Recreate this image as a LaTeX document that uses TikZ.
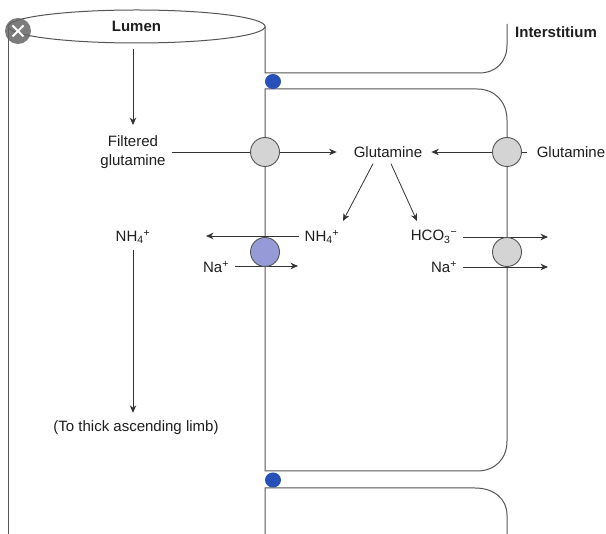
\documentclass[tikz,border=0pt]{standalone}
\usepackage{fontspec}
\setmainfont{Liberation Sans}
\usetikzlibrary{arrows.meta,shapes.geometric,backgrounds}
\definecolor{jblue}{RGB}{40,80,185}
\definecolor{cpurple}{RGB}{150,155,215}
\definecolor{cgray}{RGB}{212,212,212}
\definecolor{memc}{RGB}{85,85,85}
\definecolor{txt}{RGB}{30,30,30}
\begin{document}
\begin{tikzpicture}[x=1pt,y=-1pt,
  mem/.style={draw=memc,line width=1pt},
  link/.style={draw=black!80,line width=0.8pt},
  arr/.style={link,-{Stealth[length=7.5pt,width=6.5pt]}},
  lbl/.style={text=txt,font=\fontsize{15}{18.5}\selectfont,inner sep=2pt},
  head/.style={text=txt,font=\fontsize{15}{18.5}\selectfont\bfseries,inner sep=2pt},
  carrier/.style={circle,draw=memc,line width=0.9pt,fill=cgray,minimum size=29pt,inner sep=0pt},
  junction/.style={ellipse,fill=jblue,minimum width=16pt,minimum height=15pt,inner sep=0pt}]

\useasboundingbox (0,0) rectangle (606,534);

% labels
\node[head,ellipse,draw=memc,line width=1pt,fill=white,minimum width=257pt,minimum height=33pt,inner sep=0pt] (lumen) at (136.5,26.5) {Lumen};
\node[head] (inter) at (556,32) {Interstitium};
\node[lbl,align=center] (filt) at (133,152) {Filtered\\glutamine};
\node[lbl] (glu) at (388,152) {Glutamine};
\node[lbl] (glu2) at (571,152) {Glutamine};
\node[lbl] (nh4m) at (322,237) {NH\textsubscript{4}\textsuperscript{+}};
\node[lbl] (nh4l) at (133,237) {NH\textsubscript{4}\textsuperscript{+}};
\node[lbl] (hco) at (434,237) {HCO\textsubscript{3}\textsuperscript{−}};
\node[lbl] (nal) at (216,267) {Na\textsuperscript{+}};
\node[lbl] (nar) at (444,267) {Na\textsuperscript{+}};
\node[lbl] (limb) at (136,428) {(To thick ascending limb)};

% carriers and junctions
\node[carrier] (c1) at (265,152) {};
\node[carrier,fill=cpurple] (c2) at (265,252) {};
\node[carrier] (c3) at (507,152) {};
\node[carrier] (c4) at (507,252) {};
\node[junction] (j1) at (273,81.5) {};
\node[junction] (j2) at (273,480) {};

% free arrow ends
\coordinate (tNH) at (343,221);
\coordinate (tHC) at (417,221);
\coordinate (tNHl) at (206,236);
\coordinate (tNaL) at (298,266);
\coordinate (tHCr) at (548,237);
\coordinate (tNaR) at (548,267);

\begin{scope}[on background layer]
  \fill[white] (0,0) rectangle (606,534);
  % membranes
  \draw[mem] (8.5,27) -- (8.5,534);
  \draw[mem] (265,26.5) -- (265,73) -- (479,73) .. controls (496,73) and (507,62) .. (507,45) -- (507,24);
  \draw[mem] (265,89) -- (477,89) .. controls (495,89) and (507,102) .. (507,120) -- (507,441)
     .. controls (507,459) and (495,471) .. (477,471) -- (265,471) -- cycle;
  \draw[mem] (265,534) -- (265,488) -- (475,488) .. controls (494,488) and (507,499) .. (507,515) -- (507,534);
  % connectors
  \draw[arr,shorten <=6pt,shorten >=8.5pt] (lumen.south -| filt.north) -- (filt.north);
  \draw[arr,shorten <=4pt,shorten >=15pt] (filt.east) -- (glu.west);
  \draw[arr,shorten >=7pt] (c3.center) -- (glu.east);
  \draw[link,shorten >=8pt] (c3.center) -- (glu2.west);
  \draw[arr] ([xshift=-15pt,yshift=-4pt]glu.south) -- (tNH);
  \draw[arr] ([xshift=3pt,yshift=-4pt]glu.south) -- (tHC);
  \draw[arr,shorten <=3pt] (nh4m.west |- tNHl) -- (tNHl);
  \draw[arr,shorten <=4pt] (nal.east |- tNaL) -- (tNaL);
  \draw[arr,shorten <=4pt] (hco.east) -- (tHCr);
  \draw[arr,shorten <=4pt] (nar.east) -- (tNaR);
  \draw[arr,shorten <=4pt,shorten >=6pt] (nh4l.south) -- (nh4l.south |- limb.north);
\end{scope}

% close button overlay
\fill[black!60,opacity=0.85] (18,31) circle (13pt);
\draw[white,line width=2pt] (12.5,25.5) -- (23.5,36.5) (12.5,36.5) -- (23.5,25.5);
\end{tikzpicture}
\end{document}
